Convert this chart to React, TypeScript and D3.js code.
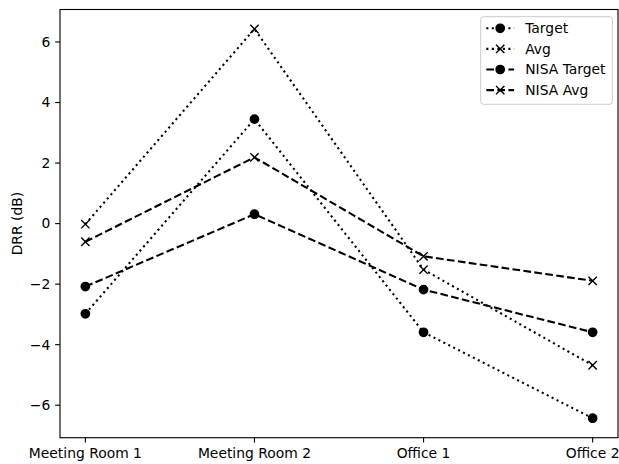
import React from "react";
import * as d3 from "d3";

const categories = ["Meeting Room 1", "Meeting Room 2", "Office 1", "Office 2"];
const target = [-2.98, 3.45, -3.59, -6.43];
const avg = [-0.02, 6.43, -1.52, -4.68];
const nisaTarget = [-2.08, 0.31, -2.18, -3.59];
const nisaAvg = [-0.6, 2.19, -1.08, -1.89];
const yTicks = [-6, -4, -2, 0, 2, 4, 6];
const seriesNames = ["Target", "Avg", "NISA Target", "NISA Avg"];

const W = 619;
const H = 464;
const M = { left: 60, right: 618, top: 9.5, bottom: 437.7 };
const FS = 13.89;
const FONT = "DejaVu Sans, sans-serif";
const LW = 2.08;
const DOT = `${1.5 * 1.3889} ${1.5 * 1.65 * 1.3889}`;
const DASH = `${1.5 * 3.7 * 1.3889} ${1.5 * 1.6 * 1.3889}`;

type S = { name: string; values: number[]; dash: string; marker: "o" | "x" };
const series: S[] = [
  { name: seriesNames[0], values: target, dash: DOT, marker: "o" },
  { name: seriesNames[1], values: avg, dash: DOT, marker: "x" },
  { name: seriesNames[2], values: nisaTarget, dash: DASH, marker: "o" },
  { name: seriesNames[3], values: nisaAvg, dash: DASH, marker: "x" },
];

function Marker({ kind, x, y }: { kind: "o" | "x"; x: number; y: number }) {
  const s = 6 * 1.3889;
  if (kind === "o") return <circle cx={x} cy={y} r={s / 2} fill="#000" stroke="#000" strokeWidth={1.4} />;
  const h = s / 2;
  return (
    <path
      d={`M${x - h},${y - h}L${x + h},${y + h}M${x - h},${y + h}L${x + h},${y - h}`}
      stroke="#000"
      strokeWidth={1.4}
      fill="none"
    />
  );
}

export default function App() {
  const all = series.flatMap((s) => s.values);
  const mn = d3.min(all)!;
  const mx = d3.max(all)!;
  const pad = (mx - mn) * 0.05;
  const x = d3.scaleLinear().domain([-0.15, categories.length - 1 + 0.15]).range([M.left, M.right]);
  const y = d3.scaleLinear().domain([mn - pad, mx + pad]).range([M.bottom, M.top]);
  const line = d3
    .line<number>()
    .x((_, i) => x(i))
    .y((d) => y(d));
  const tick = 4.86;
  const lx = 480.7;
  const ly = 16.7;
  const rowH = 20.6;
  return (
    <svg width={W} height={H} style={{ position: "absolute", left: 0, top: 0, background: "#fff" }} fontFamily={FONT}>
      <rect x={0} y={0} width={W} height={H} fill="#fff" />
      {series.map((s) => (
        <g key={s.name}>
          <path d={line(s.values)!} fill="none" stroke="#000" strokeWidth={LW} strokeDasharray={s.dash} />
          {s.values.map((v, i) => (
            <Marker key={i} kind={s.marker} x={x(i)} y={y(v)} />
          ))}
        </g>
      ))}
      <rect
        x={M.left}
        y={M.top}
        width={M.right - M.left}
        height={M.bottom - M.top}
        fill="none"
        stroke="#000"
        strokeWidth={1.11}
      />
      {yTicks.map((t) => (
        <g key={t}>
          <line x1={M.left - tick} x2={M.left} y1={y(t)} y2={y(t)} stroke="#000" strokeWidth={1.11} />
          <text x={M.left - tick - 4.86} y={y(t)} dy="0.35em" textAnchor="end" fontSize={FS} fill="#000">
            {t < 0 ? `\u2212${Math.abs(t)}` : t}
          </text>
        </g>
      ))}
      {categories.map((c, i) => (
        <g key={c}>
          <line x1={x(i)} x2={x(i)} y1={M.bottom} y2={M.bottom + tick} stroke="#000" strokeWidth={1.11} />
          <text x={x(i)} y={M.bottom + tick + 4.86 + 10.8} textAnchor="middle" fontSize={FS} fill="#000">
            {c}
          </text>
        </g>
      ))}
      <text
        transform={`translate(${17},${(M.top + M.bottom) / 2}) rotate(-90)`}
        textAnchor="middle"
        dy="0.35em"
        fontSize={FS}
        fill="#000"
      >
        DRR (dB)
      </text>
      <rect
        x={lx}
        y={ly}
        width={612.3 - lx}
        height={104.3 - ly}
        rx={2.8}
        fill="#fff"
        fillOpacity={0.8}
        stroke="#cccccc"
        strokeWidth={1}
      />
      {series.map((s, i) => {
        const cy = 28.3 + i * rowH;
        const x0 = lx + 5.6;
        const x1 = x0 + 27.8;
        return (
          <g key={s.name}>
            <line x1={x0} x2={x1} y1={cy} y2={cy} stroke="#000" strokeWidth={LW} strokeDasharray={s.dash} />
            <Marker kind={s.marker} x={(x0 + x1) / 2} y={cy} />
            <text x={x1 + 11.1} y={cy} dy="0.35em" fontSize={FS} fill="#000">
              {s.name}
            </text>
          </g>
        );
      })}
    </svg>
  );
}
